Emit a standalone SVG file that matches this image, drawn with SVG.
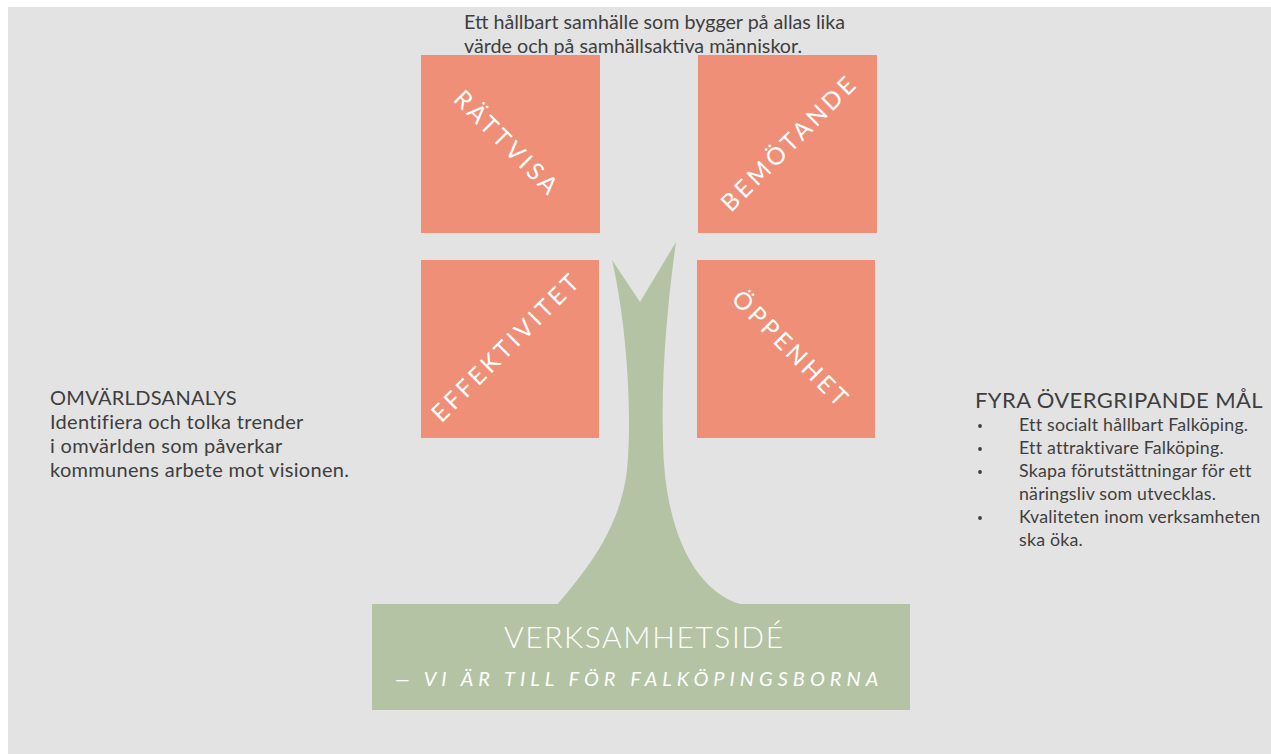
<svg xmlns="http://www.w3.org/2000/svg" width="1271" height="754" viewBox="0 0 1271 754">
<style>
.t{font-family:Lato,"Open Sans","Liberation Sans",sans-serif;fill:#3e3e3e;font-size:20px;letter-spacing:0.3px}
.top{font-size:19.7px;letter-spacing:0}
.lst{font-size:17.8px;letter-spacing:0.2px}
.ttl{font-size:22px;letter-spacing:0.4px}
.box{fill:#ef8f77}
.lbl{font-family:Lato,"Open Sans","Liberation Sans",sans-serif;fill:#ffffff;font-size:24px;letter-spacing:3.6px;text-anchor:middle}
.green{fill:#b4c3a4}
.w{font-family:Lato,"Open Sans","Liberation Sans",sans-serif;fill:#ffffff}
.dot{fill:#3e3e3e}
</style>
<rect x="0" y="0" width="1271" height="754" fill="#ffffff"/>
<rect x="8" y="7" width="1263" height="747" fill="#e3e3e3"/>

<g id="vision">
<text class="t top" x="464" y="29">Ett hållbart samhälle som bygger på allas lika</text>
<text class="t top" x="464" y="53">värde och på samhällsaktiva människor.</text>
</g>

<g id="trunk">
<path class="green" d="M 556 606 C 585 572, 620 530, 627 470 C 632 420, 628 330, 612 260 L 640 302 L 676 242 C 668 300, 661 370, 663 440 C 664 530, 695 596, 748 606 Z"/>
</g>

<g id="rattvisa">
<rect class="box" x="421" y="55" width="179" height="178"/>
<text class="lbl" transform="translate(506 142) rotate(45)" x="1.8" y="8.5">RÄTTVISA</text>
</g>
<g id="bemotande">
<rect class="box" x="698" y="55" width="179" height="178"/>
<text class="lbl" transform="translate(788 144) rotate(-45)" x="1.8" y="8.5">BEMÖTANDE</text>
</g>
<g id="effektivitet">
<rect class="box" x="421" y="260" width="178" height="178"/>
<text class="lbl" transform="translate(505 348) rotate(-45)" x="1.8" y="8.5">EFFEKTIVITET</text>
</g>
<g id="oppenhet">
<rect class="box" x="697" y="260" width="178" height="178"/>
<text class="lbl" transform="translate(790 348) rotate(45)" x="1.8" y="8.5">ÖPPENHET</text>
</g>

<g id="verksamhetside">
<rect class="green" x="372" y="604" width="538" height="106"/>
<text class="w" x="504" y="648" font-size="30" font-weight="300" letter-spacing="1.6">VERKSAMHETSIDÉ</text>
<text class="w" x="395" y="686" font-size="20" font-style="italic" letter-spacing="5">— VI ÄR TILL FÖR FALKÖPINGSBORNA</text>
</g>

<g id="omvarldsanalys">
<text class="t" x="50" y="405">OMVÄRLDSANALYS</text>
<text class="t" x="50" y="429">Identifiera och tolka trender</text>
<text class="t" x="50" y="453">i omvärlden som påverkar</text>
<text class="t" x="50" y="477">kommunens arbete mot visionen.</text>
</g>

<g id="mal">
<text class="t ttl" x="975" y="408">FYRA ÖVERGRIPANDE MÅL</text>
<circle class="dot" cx="980" cy="426" r="1.9"/>
<text class="t lst" x="1019" y="431">Ett socialt hållbart Falköping.</text>
<circle class="dot" cx="980" cy="449" r="1.9"/>
<text class="t lst" x="1019" y="454">Ett attraktivare Falköping.</text>
<circle class="dot" cx="980" cy="472" r="1.9"/>
<text class="t lst" x="1019" y="477">Skapa förutstättningar för ett</text>
<text class="t lst" x="1019" y="500">näringsliv som utvecklas.</text>
<circle class="dot" cx="980" cy="518" r="1.9"/>
<text class="t lst" x="1019" y="523">Kvaliteten inom verksamheten</text>
<text class="t lst" x="1019" y="546">ska öka.</text>
</g>
</svg>
